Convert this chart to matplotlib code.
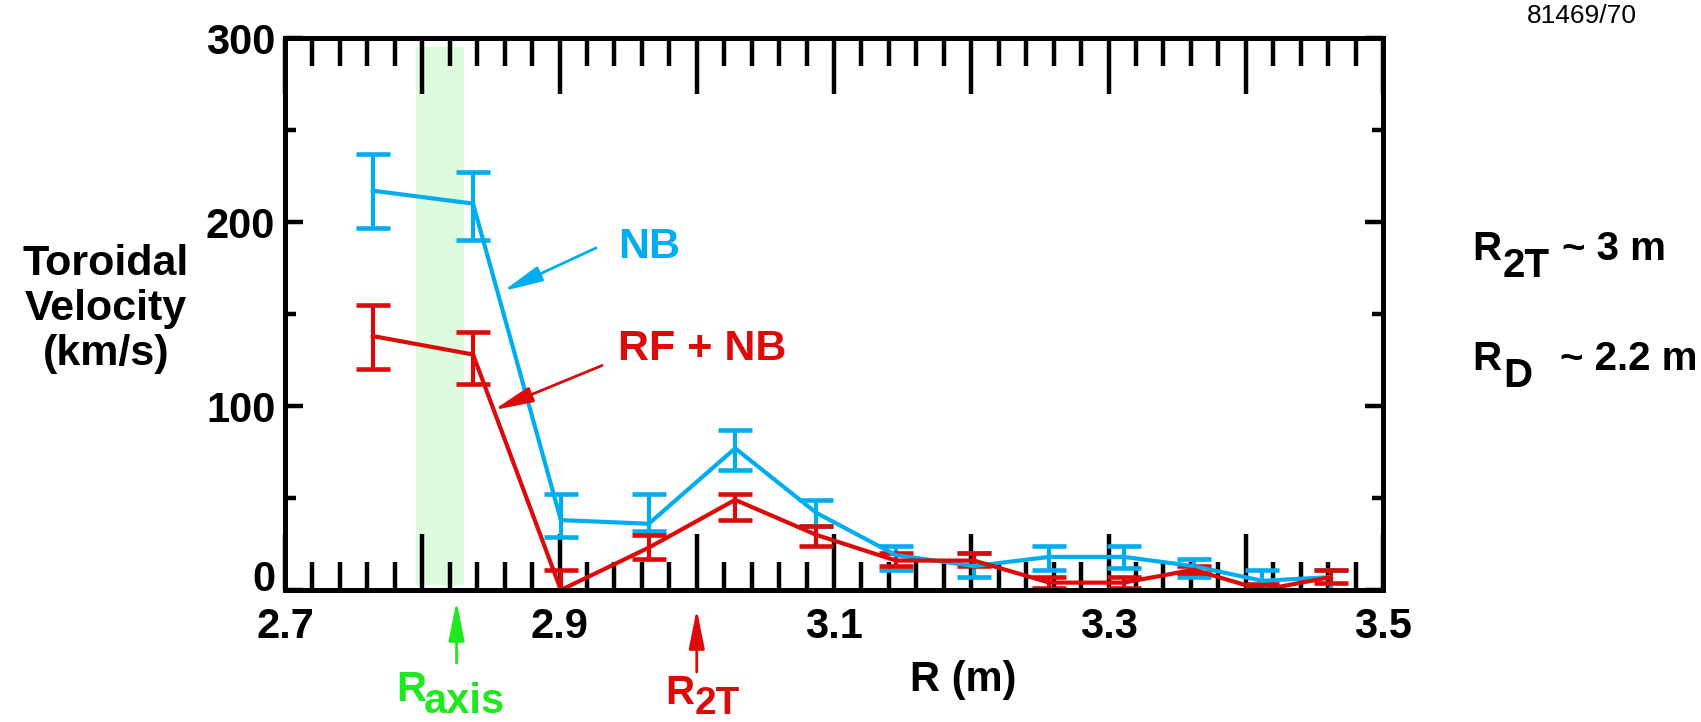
import matplotlib
matplotlib.use("Agg")
from matplotlib import pyplot as plt
from matplotlib.ticker import MultipleLocator, FuncFormatter

# major radius of the measurement channels (m)
r_pos = [2.764, 2.837, 2.901, 2.965, 3.028, 3.087, 3.145, 3.202, 3.257, 3.311, 3.362, 3.412, 3.462]

# NB only: velocity and error bar ends (km/s)
nb_vel = [217, 210, 38, 36, 77, 42, 19, 13, 18, 18, 13, 5, 7]
nb_top = [237, 227, 52, 52, 87, 49, 24, 20, 24, 24, 17, 11, 11]
nb_bot = [197, 190, 29, 32, 65, 35, 11, 7, 11, 12, 7, 2, 0]

# RF + NB
rf_vel = [138, 128, 0, 23, 49, 30, 16, 16, 4, 4, 11, 0, 7]
rf_top = [155, 140, 11, 30, 52, 35, 20, 20, 7, 7, 13, 3, 11]
rf_bot = [120, 112, -11, 17, 38, 24, 13, 13, 1, 1, 9, -3, 4]

band_lo, band_hi = 2.7955, 2.8304  # magnetic axis band
r_axis = 2.825
r_2t = 3.0

blue = "#00AEEF"
red = "#DD0A0A"
green = "#1EE81E"

plt.rcParams["font.family"] = ["Liberation Sans", "DejaVu Sans"]
plt.rcParams["font.weight"] = "bold"

W, H = 1701, 722
fig = plt.figure(figsize=(W / 100, H / 100), dpi=100)
ax = fig.add_axes([285 / W, 132 / H, 1098 / W, 552 / H])


def ptext(x, y, s, **kw):
    # text placed by image pixel coords (y from top)
    return fig.text(x / W, 1 - y / H, s, **kw)


ax.axvspan(band_lo, band_hi, ymin=0.009, ymax=0.984, color="#DDFCDD", lw=0, zorder=0)

for vel, top, bot, col in [(nb_vel, nb_top, nb_bot, blue), (rf_vel, rf_top, rf_bot, red)]:
    yerr = [[v - b for v, b in zip(vel, bot)], [t - v for v, t in zip(vel, top)]]
    ax.errorbar(r_pos, vel, yerr=yerr, color=col, lw=3.0, elinewidth=3.0,
                capsize=12.5, capthick=3.3, zorder=2)

ax.set_xlim(2.7, 3.5)
ax.set_ylim(0, 300)

ax.xaxis.set_major_locator(MultipleLocator(0.1))
ax.xaxis.set_minor_locator(MultipleLocator(0.02))
ax.xaxis.set_major_formatter(FuncFormatter(
    lambda v, p: f"{v:.1f}" if round(v * 10) % 2 == 1 else ""))
ax.yaxis.set_major_locator(MultipleLocator(100))
ax.yaxis.set_minor_locator(MultipleLocator(50))
# the "0" sits a bit higher in the original, drawn separately below
ax.yaxis.set_major_formatter(FuncFormatter(lambda v, p: "" if v == 0 else f"{v:.0f}"))

ax.tick_params(axis="x", which="major", direction="in", length=40, width=3.2,
               top=True, bottom=True, labelsize=30, pad=12)
ax.tick_params(axis="x", which="minor", direction="in", length=20, width=3.2,
               top=True, bottom=True)
ax.tick_params(axis="y", which="major", direction="in", length=13, width=3.2,
               left=True, right=True, labelsize=30, pad=7)
ax.tick_params(axis="y", which="minor", direction="in", length=8, width=3.2,
               left=True, right=True)
for sp in ax.spines.values():
    sp.set_linewidth(3.6)

ax.annotate("0", xy=(2.7, 0), xytext=(-7, 7), textcoords="offset points",
            ha="right", va="center", fontsize=30, annotation_clip=False)

head = "-|>,head_length=1.6,head_width=0.32"

# arrows to the curves
ax.annotate("", xy=(2.859, 162.5), xytext=(2.9266, 185.9),
            arrowprops=dict(arrowstyle=head, color=blue, lw=2,
                            mutation_scale=15, shrinkA=0, shrinkB=0))
ax.text(2.9426, 180.4, "NB", color=blue, fontsize=31, va="baseline")
ax.annotate("", xy=(2.852, 97.8), xytext=(2.931, 122),
            arrowprops=dict(arrowstyle=head, color=red, lw=2,
                            mutation_scale=15, shrinkA=0, shrinkB=0))
ax.text(2.9426, 125, "RF + NB", color=red, fontsize=31, va="baseline")

# markers below the axis
ax.annotate("", xy=(r_axis, H - 601), xytext=(r_axis, H - 663),
            xycoords=("data", "figure pixels"), textcoords=("data", "figure pixels"),
            annotation_clip=False,
            arrowprops=dict(arrowstyle=head, color=green, lw=2,
                            mutation_scale=15, shrinkA=0, shrinkB=0))
ax.annotate("", xy=(r_2t, H - 609), xytext=(r_2t, H - 672),
            xycoords=("data", "figure pixels"), textcoords=("data", "figure pixels"),
            annotation_clip=False,
            arrowprops=dict(arrowstyle=head, color=red, lw=2,
                            mutation_scale=15, shrinkA=0, shrinkB=0))

ptext(396, 701, "R", color=green, fontsize=30, va="baseline")
ptext(424, 713, "axis", color=green, fontsize=30, va="baseline")
ptext(665, 704, "R", color=red, fontsize=29, va="baseline")
ptext(695, 714, "2T", color=red, fontsize=28, va="baseline")

ptext(963, 680, "R (m)", fontsize=30, ha="center", va="center")
ptext(106, 309, "Toroidal\nVelocity\n(km/s)", fontsize=31, ha="center", va="center",
      linespacing=1.17)

ptext(1472, 260, "R", fontsize=29, va="baseline")
ptext(1503, 277, "2T", fontsize=29, va="baseline")
ptext(1562, 260, "~ 3 m", fontsize=29, va="baseline")
ptext(1472, 370, "R", fontsize=29, va="baseline")
ptext(1503, 387, "D", fontsize=29, va="baseline")
ptext(1560, 370, "~ 2.2 m", fontsize=29, va="baseline")

ptext(1637, 16, "81469/70", fontsize=19, weight="normal", ha="right", va="center")

plt.savefig("out.png", dpi=100)
